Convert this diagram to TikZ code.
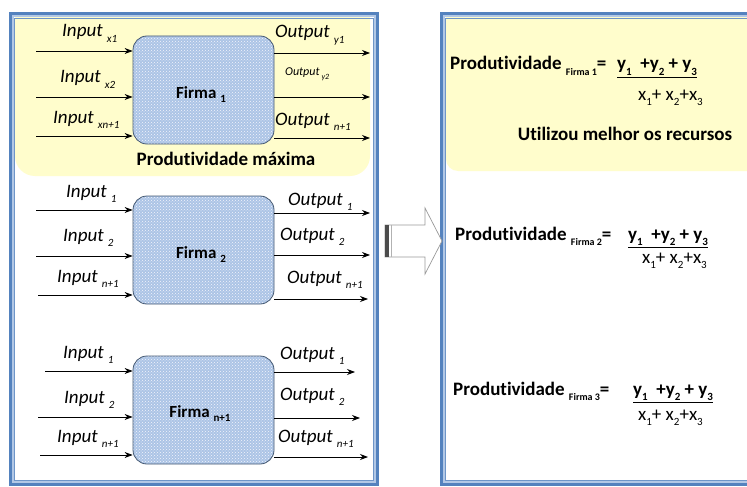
\documentclass[tikz,border=0pt]{standalone}
\usepackage{fontspec}
\setmainfont{Carlito}[Ligatures=NoCommon]
\usetikzlibrary{patterns,arrows.meta}

\definecolor{frameblue}{RGB}{84,130,190}
\definecolor{framelight}{RGB}{178,200,230}
\definecolor{paleyellow}{RGB}{255,253,204}
\definecolor{boxblue}{RGB}{172,196,230}
\definecolor{boxedge}{RGB}{70,90,115}

% small lowered index text
\newcommand{\lowtxt}[2][11]{\raisebox{-0.28em}{\fontsize{#1}{#1}\selectfont #2}}
\newcommand{\fsz}[1]{\fontsize{#1}{#1}\selectfont}

\tikzset{
  lbl/.style={anchor=base west, inner sep=0pt, font=\fsz{19}\itshape},
  firmbox/.style={draw=boxedge, line width=0.8pt, rounded corners=14pt,
    minimum width=141pt, minimum height=108pt, inner sep=0pt},
  firmname/.style={anchor=base, inner sep=0pt, font=\fsz{17}\bfseries},
  flow/.style={-{Stealth[length=8pt,width=6pt]}, line width=0.8pt, black},
  formula/.style={anchor=base west, inner sep=0pt, font=\fsz{19}\bfseries},
  numer/.style={anchor=base west, inner sep=0pt, font=\fsz{19}\bfseries},
  denom/.style={anchor=base east, inner sep=0pt, font=\fsz{19}},
  boldtext/.style={anchor=base, inner sep=0pt, font=\fsz{19}\bfseries},
}

% double blue frame of a panel
\newcommand{\panelframe}[4]{%
  \draw[frameblue, line width=3pt] (#1,#2) rectangle (#3,#4);
  \draw[framelight, line width=2pt] (#1+2.5,#2+2.5) rectangle (#3-2.5,#4-2.5);
  \draw[frameblue!85, line width=0.6pt] (#1+4,#2+4) rectangle (#3-4,#4-4);
}

% dotted light-blue fill of a firm box
\newcommand{\firmfill}[4]{%
  \fill[boxblue, rounded corners=14pt] (#1,#2) rectangle (#3,#4);
  \fill[pattern=crosshatch dots, pattern color=white!85!boxblue, rounded corners=14pt]
    (#1,#2) rectangle (#3,#4);
}

\begin{document}
\begin{tikzpicture}[x=1pt, y=-1pt]
\useasboundingbox (0,0) rectangle (747,487);
\fill[white] (0,0) rectangle (747,487);

% ---------- left panel ----------
\fill[white] (10,14) rectangle (377,484);
\fill[paleyellow, rounded corners=20pt] (15,0) -- (15,176) -- (370,176) -- (370,0) -- cycle;
\fill[white] (0,0) rectangle (747,12);
\panelframe{10}{14}{377}{484}

% ---------- right panel ----------
\fill[paleyellow, rounded corners=12pt] (446,0) -- (446,171) -- (760,171) -- (760,0) -- cycle;
\fill[white] (380,0) rectangle (747,12);
\panelframe{441}{14}{760}{484}

% ---------- block arrow between the panels ----------
\draw[gray!80, line width=0.7pt, fill=white]
  (385,225) -- (425,225) -- (425,208) -- (442,241) -- (425,274) -- (425,257) -- (385,257) -- cycle;
\fill[gray!60!black] (385,225) rectangle (389,257);
\draw[gray!60, line width=0.8pt] (391,225) -- (391,257);

% ---------- firm 1 ----------
\firmfill{133}{36}{274}{144}
\node[firmbox] (f1) at (203.5,90) {};
\node[firmname] (f1name) at (201,98) {Firma \lowtxt{1}};

\coordinate (i11) at (36,51);  \coordinate (i12) at (36,97);  \coordinate (i13) at (36,136);
\coordinate (o11) at (370,53); \coordinate (o12) at (370,97); \coordinate (o13) at (370,138);
\draw[flow] (i11) -- (i11 -| f1.west);
\draw[flow] (i12) -- (i12 -| f1.west);
\draw[flow] (i13) -- (i13 -| f1.west);
\draw[flow] (o11 -| f1.east) -- (o11);
\draw[flow] (o12 -| f1.east) -- (o12);
\draw[flow] (o13 -| f1.east) -- (o13);

\node[lbl] (t11) at (62,37) {Input \lowtxt{x1}};
\node[lbl] (t12) at (60,83) {Input \lowtxt{x2}};
\node[lbl] (t13) at (53,123) {Input \lowtxt{xn+1}};
\node[lbl] (u11) at (275,38) {Output \lowtxt{y1}};
\node[lbl, font=\fsz{12}\itshape] (u12) at (285,76) {Output\,\lowtxt[8]{y2}};
\node[lbl] (u13) at (275,125) {Output \lowtxt{n+1}};

\node[boldtext] (pmax) at (226,165) {Produtividade máxima};

% ---------- firm 2 ----------
\firmfill{133}{196}{274}{304}
\node[firmbox] (f2) at (203.5,250) {};
\node[firmname] (f2name) at (201,258) {Firma \lowtxt{2}};

\coordinate (i21) at (36,210); \coordinate (i22) at (36,256); \coordinate (i23) at (38,295);
\coordinate (o21) at (370,213); \coordinate (o22) at (370,255); \coordinate (o23) at (368,299);
\draw[flow] (i21) -- (i21 -| f2.west);
\draw[flow] (i22) -- (i22 -| f2.west);
\draw[flow] (i23) -- (i23 -| f2.west);
\draw[flow] (o21 -| f2.east) -- (o21);
\draw[flow] (o22 -| f2.east) -- (o22);
\draw[flow] (o23 -| f2.east) -- (o23);

\node[lbl] (t21) at (66,197) {Input \lowtxt{1}};
\node[lbl] (t22) at (63,241) {Input \lowtxt{2}};
\node[lbl] (t23) at (57,282) {Input \lowtxt{n+1}};
\node[lbl] (u21) at (288,205) {Output \lowtxt{1}};
\node[lbl] (u22) at (280,240) {Output \lowtxt{2}};
\node[lbl] (u23) at (287,283) {Output \lowtxt{n+1}};

% ---------- firm n+1 ----------
\firmfill{133}{356}{274}{464}
\node[firmbox] (f3) at (203.5,410) {};
\node[firmname] (f3name) at (200,417) {Firma \lowtxt{n+1}};

\coordinate (i31) at (45,371); \coordinate (i32) at (38,417); \coordinate (i33) at (40,455);
\coordinate (o31) at (355,372); \coordinate (o32) at (360,418); \coordinate (o33) at (368,457);
\draw[flow] (i31) -- (i31 -| f3.west);
\draw[flow] (i32) -- (i32 -| f3.west);
\draw[flow] (i33) -- (i33 -| f3.west);
\draw[flow] (o31 -| f3.east) -- (o31);
\draw[flow] (o32 -| f3.east) -- (o32);
\draw[flow] (o33 -| f3.east) -- (o33);

\node[lbl] (t31) at (63,358) {Input \lowtxt{1}};
\node[lbl] (t32) at (64,403) {Input \lowtxt{2}};
\node[lbl] (t33) at (57,442) {Input \lowtxt{n+1}};
\node[lbl] (u31) at (280,359) {Output \lowtxt{1}};
\node[lbl] (u32) at (280,400) {Output \lowtxt{2}};
\node[lbl] (u33) at (278,442) {Output \lowtxt{n+1}};

% ---------- productivity formulas ----------
\node[formula] (p1) at (450,70) {Produtividade \lowtxt[10]{Firma 1}=};
\node[numer] (n1) at (617,70) {\underline{y\lowtxt{1}\ \ +y\lowtxt{2}\ + y\lowtxt{3}}};
\node[denom] (d1) at (703,100) {x\lowtxt{1}+ x\lowtxt{2}+x\lowtxt{3}};
\node[boldtext] (best) at (625,140) {Utilizou melhor os recursos};

\node[formula] (p2) at (455,240) {Produtividade \lowtxt[10]{Firma 2}=};
\node[numer] (n2) at (628,240) {\underline{y\lowtxt{1}\ \ +y\lowtxt{2}\ + y\lowtxt{3}}};
\node[denom] (d2) at (707,263) {x\lowtxt{1}+ x\lowtxt{2}+x\lowtxt{3}};

\node[formula] (p3) at (453,395) {Produtividade \lowtxt[10]{Firma 3}=};
\node[numer] (n3) at (633,395) {\underline{y\lowtxt{1}\ \ +y\lowtxt{2}\ + y\lowtxt{3}}};
\node[denom] (d3) at (703,420) {x\lowtxt{1}+ x\lowtxt{2}+x\lowtxt{3}};
\end{tikzpicture}
\end{document}
